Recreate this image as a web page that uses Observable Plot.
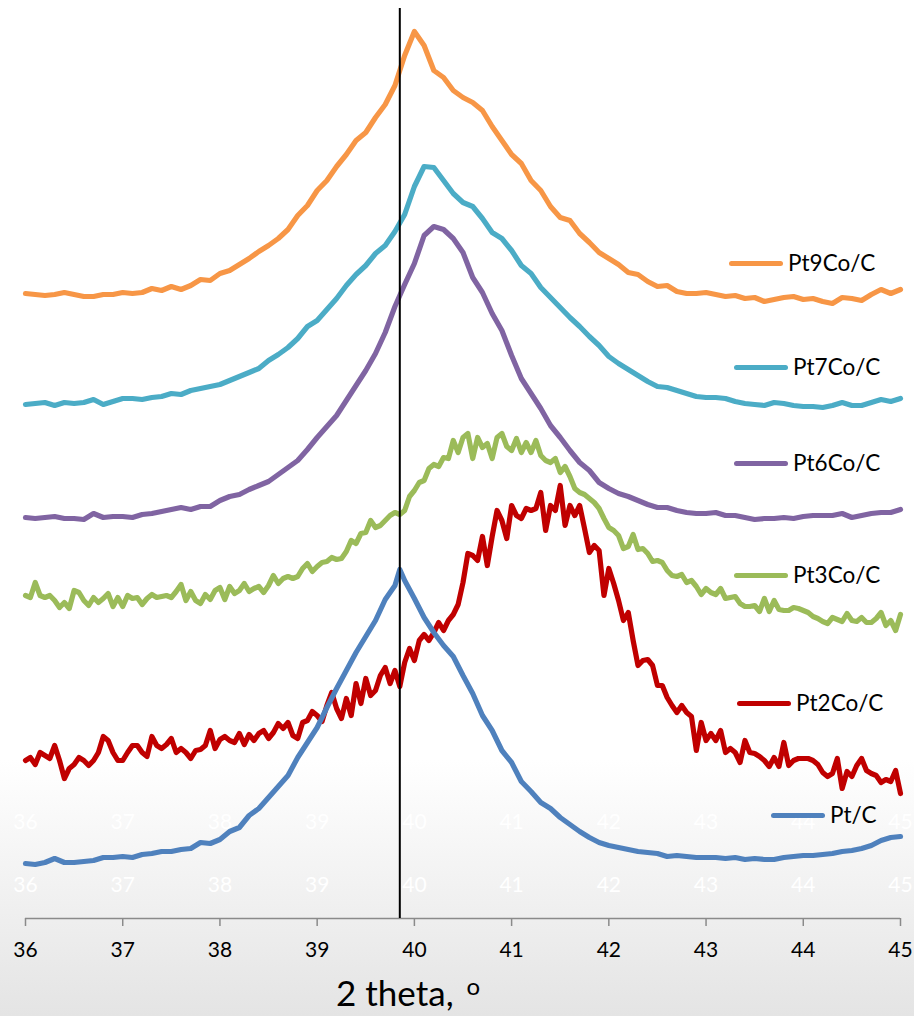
<!DOCTYPE html>
<html>
<head>
<meta charset="utf-8">
<script src="https://cdn.jsdelivr.net/npm/d3@7"></script>
<script src="https://cdn.jsdelivr.net/npm/@observablehq/plot@0.6"></script>
<style>
  html, body { margin: 0; padding: 0; }
  body {
    width: 914px; height: 1016px; overflow: hidden;
    background: linear-gradient(to bottom, #ffffff 0px, #ffffff 760px, #e4e4e4 1016px);
    font-family: Lato, "Open Sans", sans-serif;
  }
  #wrap { position: relative; width: 914px; height: 1016px; }
  #chart svg { display: block; }
  .leg { position: absolute; display: flex; align-items: center; height: 26px; line-height: 26px;
         font-size: 22.5px; color: #000; white-space: nowrap; }
  .sw { display: inline-block; width: 54px; height: 5px; border-radius: 3px; margin-right: 5px; }
  #xlabel { position: absolute; left: 336px; top: 973px; font-size: 35px; line-height: 38px; color: #000; white-space: nowrap; }
  #xlabel .deg { font-size: 24px; position: relative; top: -11px; margin-left: 4px; }
</style>
</head>
<body>
<div id="wrap">
  <div id="chart"></div>
  <div id="legend"></div>
  <div id="xlabel">2 theta, <span class="deg">o</span></div>
</div>
<script>
// ---------------- data (intensity, arbitrary units) ----------------
const xTicks = [36, 37, 38, 39, 40, 41, 42, 43, 44, 45];
const refAngle = [39.85];
const seriesNames = ["Pt9Co/C", "Pt7Co/C", "Pt6Co/C", "Pt3Co/C", "Pt2Co/C", "Pt/C"];
const seriesColors = ["#F79646", "#4BACC6", "#8064A2", "#9BBB59", "#C00000", "#4F81BD"];

// angle grids (2 theta, degrees)
const theta01 = d3.range(91).map(i => +(36 + i * 0.1).toFixed(2));
const theta005 = d3.range(181).map(i => +(36 + i * 0.05).toFixed(2));

// Pt9Co/C on theta01
const pt9Co = [
  625,624,623,624,626,624,622,622,624,624,
  626,625,626,630,628,632,629,633,639,638,
  645,648,654,660,667,673,680,689,703,713,
  728,738,752,764,778,786,801,814,833,863,
  887,873,848,841,828,821,816,808,792,778,
  764,755,738,728,712,701,698,685,676,666,
  660,654,646,644,637,632,633,627,625,625,
  626,624,622,623,620,621,617,619,621,622,
  619,620,617,615,621,620,618,624,629,625,
  629
];
// Pt7Co/C on theta01
const pt7Co = [
  514,515,516,513,516,515,516,519,514,517,
  520,520,519,521,522,525,524,528,530,532,
  534,538,542,546,550,558,564,571,580,592,
  598,609,620,633,644,653,665,673,687,704,
  732,752,751,738,725,716,712,700,686,680,
  668,653,645,631,621,611,601,592,582,573,
  562,555,549,543,537,532,531,528,525,522,
  521,521,520,517,515,514,513,516,515,513,
  512,512,511,513,516,513,513,516,519,517,
  520
];
// Pt6Co/C on theta01
const pt6Co = [
  401,400,401,402,400,400,399,405,401,402,
  402,401,404,405,407,409,411,409,412,412,
  418,422,424,429,433,437,444,451,458,469,
  481,492,503,518,533,548,565,586,612,634,
  655,683,692,689,680,666,641,626,605,588,
  563,540,525,510,493,481,468,456,448,436,
  430,425,422,418,414,411,411,408,406,405,
  405,406,403,403,401,399,400,400,401,400,
  402,403,403,403,405,401,403,405,406,406,
  409
];
// Pt3Co/C on theta005
const pt3Co = [
  323,321,336,323,321,323,318,311,316,310,
  328,326,318,313,321,316,320,325,312,321,
  312,323,320,321,314,320,324,321,322,323,
  321,327,334,318,327,318,315,324,319,328,
  331,319,332,325,328,335,327,330,332,326,
  333,343,335,340,342,340,342,350,355,347,
  352,356,357,361,359,360,367,378,375,385,
  386,398,391,393,398,403,406,404,408,422,
  428,436,438,450,454,452,461,460,478,466,
  481,485,460,481,471,475,460,481,485,472,
  468,480,466,476,466,478,463,458,456,460,
  446,452,442,430,426,424,420,416,410,400,
  391,388,383,370,372,384,369,370,365,357,
  358,356,348,343,342,344,336,338,332,324,
  330,326,324,330,320,321,322,315,312,312,
  313,307,320,307,318,309,308,308,311,310,
  308,306,302,300,297,295,301,299,297,305,
  298,297,301,296,296,300,306,293,298,288,
  304
];
// Pt2Co/C on theta005
const pt2Co = [
  158,161,154,166,163,160,173,158,140,150,
  154,161,158,153,158,166,182,178,166,158,
  158,166,173,173,166,162,182,173,170,174,
  180,166,170,166,160,168,169,173,188,170,
  179,182,178,176,185,174,184,178,185,188,
  180,186,195,190,196,183,180,196,198,207,
  203,197,213,226,210,200,220,203,235,215,
  240,223,228,243,251,235,248,232,256,270,
  258,278,284,278,286,296,288,298,304,314,
  336,365,363,358,382,353,382,408,398,380,
  413,403,400,410,408,410,426,388,413,408,
  433,393,413,403,413,390,366,373,368,323,
  350,335,318,298,306,278,253,258,259,253,
  233,233,221,213,206,213,206,202,168,196,
  178,185,178,188,166,170,166,156,178,166,
  165,162,158,152,161,152,176,153,158,160,
  160,160,158,154,146,142,145,160,130,147,
  142,153,160,148,145,143,136,139,137,148,
  125
];
// Pt/C as [angle, intensity]
const ptC = [
  [36.0,55],[36.1,54],[36.2,56],[36.3,60],[36.4,56],[36.5,56],[36.6,57],[36.7,58],[36.8,61],[36.9,61],
  [37.0,62],[37.1,61],[37.2,64],[37.3,65],[37.4,67],[37.5,67],[37.6,69],[37.7,70],[37.8,76],[37.9,75],
  [38.0,79],[38.1,87],[38.2,91],[38.3,103],[38.4,110],[38.5,121],[38.6,132],[38.7,143],[38.8,161],[38.9,176],
  [39.0,191],[39.1,211],[39.2,230],[39.3,248],[39.4,266],[39.5,282],[39.6,298],[39.7,319],[39.8,333],[39.85,349],[39.9,338],
  [40.0,320],[40.1,301],[40.2,286],[40.3,273],[40.4,262],[40.5,243],[40.6,225],[40.7,203],[40.8,188],[40.9,168],
  [41.0,156],[41.1,137],[41.2,127],[41.3,116],[41.4,110],[41.5,101],[41.6,94],[41.7,87],[41.8,81],[41.9,76],
  [42.0,73],[42.1,71],[42.2,69],[42.3,67],[42.4,66],[42.5,65],[42.6,62],[42.7,63],[42.8,62],[42.9,61],
  [43.0,61],[43.1,61],[43.2,60],[43.3,61],[43.4,59],[43.5,60],[43.6,59],[43.7,59],[43.8,61],[43.9,62],
  [44.0,63],[44.1,63],[44.2,64],[44.3,65],[44.4,67],[44.5,68],[44.6,70],[44.7,73],[44.8,78],[44.9,81],
  [45.0,82]
];

// ---------------- build table ----------------
const seriesRows = [
  theta01.map((t, i) => ({theta: t, intensity: pt9Co[i], series: "Pt9Co/C"})),
  theta01.map((t, i) => ({theta: t, intensity: pt7Co[i], series: "Pt7Co/C"})),
  theta01.map((t, i) => ({theta: t, intensity: pt6Co[i], series: "Pt6Co/C"})),
  theta005.map((t, i) => ({theta: t, intensity: pt3Co[i], series: "Pt3Co/C"})),
  theta005.map((t, i) => ({theta: t, intensity: pt2Co[i], series: "Pt2Co/C"})),
  ptC.map(([t, v]) => ({theta: t, intensity: v, series: "Pt/C"}))
];

const W = 914, H = 965;
const lineMarks = seriesRows.map(rows => Plot.line(rows, {
  x: "theta", y: "intensity", stroke: "series",
  strokeWidth: 5.2, strokeLinejoin: "round", strokeLinecap: "round"
}));

const plot = Plot.plot({
  width: W, height: H,
  marginLeft: 25, marginRight: 14, marginTop: 0, marginBottom: 47,
  style: {background: "transparent", fontFamily: "Lato, 'Open Sans', sans-serif", fontSize: "21px", overflow: "visible"},
  x: {domain: [36, 45]},
  y: {domain: [0, 918], axis: null},
  color: {domain: seriesNames, range: seriesColors},
  marks: [
    // faint ghost tick labels (white)
    Plot.axisX({ticks: xTicks, tickSize: 8, tickPadding: 16, stroke: "none", fill: "white", dy: -128, fontSize: 21, tickFormat: d => String(d), label: null}),
    Plot.axisX({ticks: xTicks, tickSize: 8, tickPadding: 16, stroke: "none", fill: "white", dy: -65, fontSize: 21, tickFormat: d => String(d), label: null}),
    ...lineMarks,
    Plot.ruleY([0], {stroke: "#8a8a8a", strokeWidth: 1.5}),
    Plot.axisX({ticks: xTicks, tickSize: 8, tickPadding: 16, stroke: "#8a8a8a", strokeWidth: 1.5, fill: "black", fontSize: 21, tickFormat: d => String(d), label: null}),
    Plot.ruleX(refAngle, {y1: 0, y2: 910, stroke: "black", strokeWidth: 2})
  ]
});
document.getElementById("chart").appendChild(plot);

// ---------------- legend ----------------
const legendLayout = [
  {left: 729, top: 263},
  {left: 734, top: 367},
  {left: 734, top: 463},
  {left: 734, top: 575},
  {left: 737, top: 703},
  {left: 771, top: 815}
];
const legend = document.getElementById("legend");
seriesNames.forEach((name, i) => {
  const item = document.createElement("div");
  item.className = "leg";
  item.style.left = legendLayout[i].left + "px";
  item.style.top = (legendLayout[i].top - 13) + "px";
  const sw = document.createElement("span");
  sw.className = "sw";
  sw.style.background = seriesColors[i];
  const tx = document.createElement("span");
  tx.textContent = name;
  item.appendChild(sw);
  item.appendChild(tx);
  legend.appendChild(item);
});
</script>
</body>
</html>
